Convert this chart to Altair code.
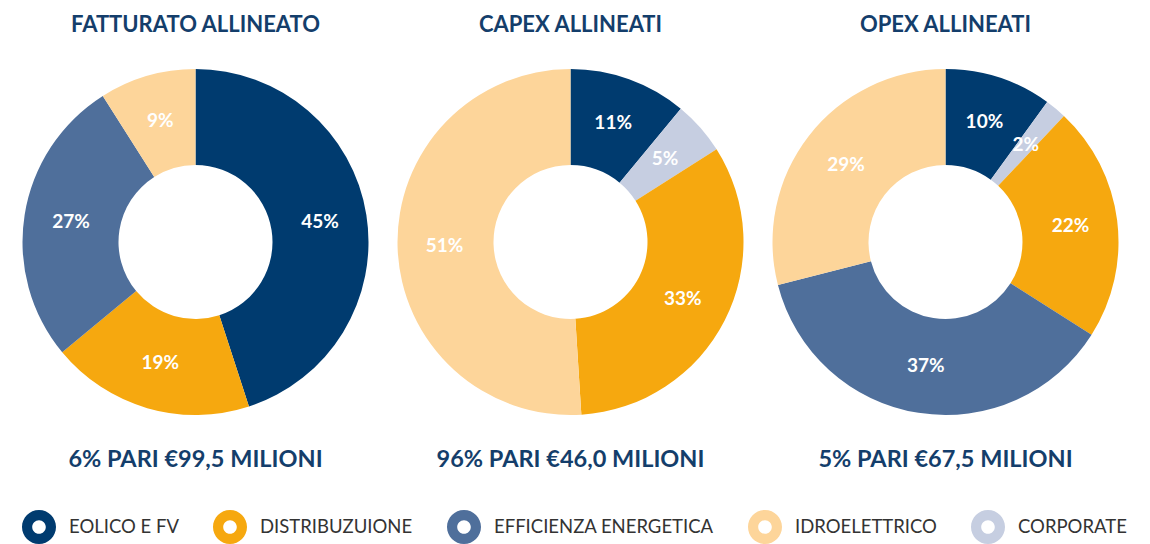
import altair as alt
import pandas as pd

# Categories in stacking (clockwise) order
categories = ["EOLICO E FV", "CORPORATE", "DISTRIBUZUIONE", "EFFICIENZA ENERGETICA", "IDROELETTRICO"]
# Legend order
legend_order = ["EOLICO E FV", "DISTRIBUZUIONE", "EFFICIENZA ENERGETICA", "IDROELETTRICO", "CORPORATE"]
legend_colors = ["#003B6F", "#F6A80F", "#4F6F9B", "#FDD59A", "#C6CEE1"]

fatturato = [45, 0, 19, 27, 9]
capex = [11, 5, 33, 0, 51]
opex = [10, 2, 22, 37, 29]

titles = ["FATTURATO ALLINEATO", "CAPEX ALLINEATI", "OPEX ALLINEATI"]
footers = ["6% PARI €99,5 MILIONI", "96% PARI €46,0 MILIONI", "5% PARI €67,5 MILIONI"]

NAVY = "#143E6B"
W, H = 375, 490
CX, CY = 187.5, 234

RING = ("M -1 0 A 1 1 0 1 0 1 0 A 1 1 0 1 0 -1 0 Z "
        "M -0.4 0 A 0.4 0.4 0 1 1 0.4 0 A 0.4 0.4 0 1 1 -0.4 0 Z")

color_scale = alt.Scale(domain=legend_order, range=legend_colors)
legend = alt.Legend(
    title=None, orient="none", direction="horizontal",
    legendX=14, legendY=502, columnPadding=34,
    symbolType=RING, symbolSize=1156, symbolStrokeWidth=0,
    labelFont="Lato", labelFontSize=18.5,
    labelColor="#333333", labelOffset=13, labelLimit=0,
)


def panel(values, title, footer):
    df = pd.DataFrame({
        "cat": categories,
        "value": values,
        "ord": list(range(len(categories))),
    })
    base = alt.Chart(df).encode(
        theta=alt.Theta("value:Q", stack=True),
        order=alt.Order("ord:Q"),
    )
    arc = base.mark_arc(innerRadius=77, outerRadius=173).encode(
        color=alt.Color("cat:N", scale=color_scale, legend=legend),
        x=alt.value(CX), y=alt.value(CY),
    )
    lbl = base.transform_calculate(
        label="datum.value + '%'"
    ).mark_text(
        radius=126, font="Lato", fontWeight="bold", fontSize=19, color="white"
    ).encode(
        text="label:N", x=alt.value(CX), y=alt.value(CY),
        opacity=alt.condition("datum.value > 0", alt.value(1), alt.value(0)),
    )
    tdf = pd.DataFrame({"t": [title], "f": [footer]})
    ttl = alt.Chart(tdf).mark_text(
        font="Lato", fontWeight="bold", fontSize=22, color=NAVY
    ).encode(text="t:N", x=alt.value(CX), y=alt.value(17))
    ftr = alt.Chart(tdf).mark_text(
        font="Lato", fontWeight="bold", fontSize=23.5, color=NAVY
    ).encode(text="f:N", x=alt.value(CX), y=alt.value(452))
    return alt.layer(arc, lbl, ttl, ftr).properties(width=W, height=H)


chart = alt.hconcat(
    panel(fatturato, titles[0], footers[0]),
    panel(capex, titles[1], footers[1]),
    panel(opex, titles[2], footers[2]),
    spacing=0,
).resolve_scale(color="shared").properties(padding=0).configure_view(stroke=None)

chart.save("out.html", embed_options={"renderer": "svg", "actions": False})
